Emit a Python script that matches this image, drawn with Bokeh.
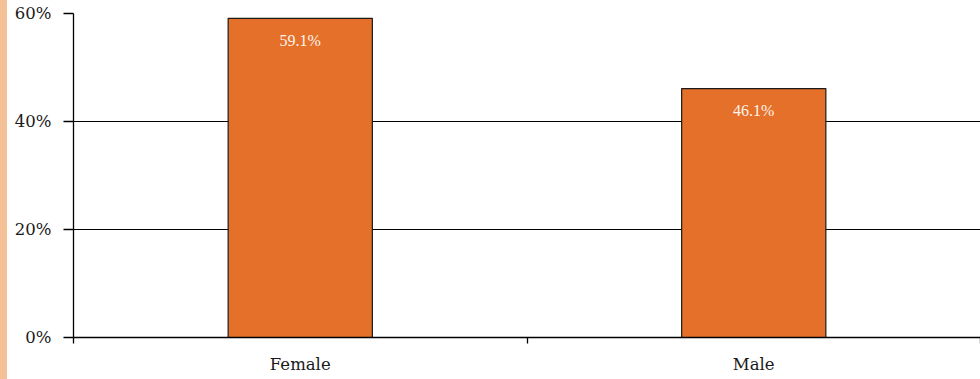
from bokeh.plotting import figure
from bokeh.models import ColumnDataSource, FixedTicker, Range1d, Div, LabelSet
from bokeh.layouts import row
from bokeh.embed import file_html
from bokeh.resources import INLINE

categories = ["Female", "Male"]
values = [59.1, 46.1]
value_labels = ["59.1%", "46.1%"]
y_ticks = [0, 20, 40, 60]
y_tick_labels = ["0%", "20%", "40%", "60%"]

xs = [i + 0.5 for i in range(len(categories))]
src = ColumnDataSource(dict(x=xs, top=values, label=value_labels, cat=categories))

FONT = "DejaVu Serif"

p = figure(width=973, height=379, output_backend="svg", toolbar_location=None,
           x_range=Range1d(0, len(categories)), y_range=Range1d(0, 60),
           min_border_left=66, min_border_right=0, min_border_top=13, min_border_bottom=42)
p.outline_line_color = None
p.background_fill_color = "white"
p.border_fill_color = "white"

p.vbar(x="x", top="top", width=0.318, bottom=0, source=src,
       fill_color="#E4702A", line_color="#1a1a1a", line_width=1.2)

labels = LabelSet(x="x", y="top", text="label", source=src, y_offset=-22,
                  text_align="center", text_baseline="middle",
                  text_color="#FFF5EE", text_font=FONT, text_font_size="16px")
p.add_layout(labels)

# x axis
p.xaxis.ticker = FixedTicker(ticks=xs, minor_ticks=list(range(len(categories) + 1)))
p.xaxis.major_label_overrides = {x: c for x, c in zip(xs, categories)}
p.xaxis.major_tick_line_color = None
p.xaxis.minor_tick_line_color = "black"
p.xaxis.minor_tick_line_width = 1.3
p.xaxis.minor_tick_in = 0
p.xaxis.minor_tick_out = 6
p.xaxis.axis_line_color = "black"
p.xaxis.axis_line_width = 1.3
p.xaxis.major_label_text_font = FONT
p.xaxis.major_label_text_font_size = "16.5px"
p.xaxis.major_label_text_color = "#1a1a1a"
p.xaxis.major_label_standoff = 11

# y axis
p.yaxis.ticker = FixedTicker(ticks=y_ticks)
p.yaxis.major_label_overrides = {t: l for t, l in zip(y_ticks, y_tick_labels)}
p.yaxis.major_tick_line_color = "black"
p.yaxis.major_tick_line_width = 1.3
p.yaxis.major_tick_in = 0
p.yaxis.major_tick_out = 10
p.yaxis.minor_tick_line_color = None
p.yaxis.axis_line_color = "black"
p.yaxis.axis_line_width = 1.3
p.yaxis.major_label_text_font = FONT
p.yaxis.major_label_text_font_size = "16.5px"
p.yaxis.major_label_text_color = "#1a1a1a"
p.yaxis.major_label_standoff = 12

p.xgrid.grid_line_color = None
p.ygrid.grid_line_color = "black"
p.ygrid.grid_line_width = 1.2

strip = Div(text="", width=7, height=379, margin=0,
            styles={"background-color": "#F4C197", "width": "7px", "height": "379px"})

layout = row(strip, p, spacing=0, margin=0)

open("out.html", "w").write(file_html(layout, INLINE))
